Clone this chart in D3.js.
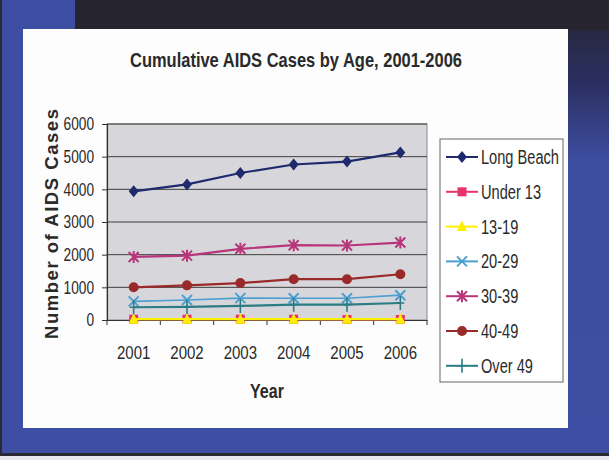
<!DOCTYPE html>
<html>
<head>
<meta charset="utf-8">
<script src="https://cdn.jsdelivr.net/npm/d3@7"></script>
<style>
  html, body { margin: 0; padding: 0; background: #fff; }
  svg { display: block; }
  text { font-family: "Liberation Sans", Arial, sans-serif; }
</style>
</head>
<body>
<svg id="chart" width="609" height="460"></svg>
<script>
// ---- data ----
const title = "Cumulative AIDS Cases by Age, 2001-2006";
const years = ["2001", "2002", "2003", "2004", "2005", "2006"];
const yTicks = [0, 1000, 2000, 3000, 4000, 5000, 6000];
const seriesNames = ["Long Beach", "Under 13", "13-19", "20-29", "30-39", "40-49", "Over 49"];
const longBeach = [3940, 4150, 4500, 4760, 4850, 5130];
const under13   = [25, 25, 25, 25, 15, 15];
const age13to19 = [25, 25, 25, 25, 25, 25];
const age20to29 = [570, 610, 670, 665, 665, 760];
const age30to39 = [1930, 1970, 2180, 2290, 2280, 2370];
const age40to49 = [1000, 1060, 1130, 1250, 1250, 1400];
const over49    = [390, 400, 430, 470, 470, 520];
const seriesValues = [longBeach, under13, age13to19, age20to29, age30to39, age40to49, over49];
const seriesColors = ["#1f2a6e", "#e8336a", "#fff000", "#4d9fd0", "#b8357c", "#9a2a2a", "#2b7c84"];
const seriesMarkers = ["diamond", "square", "triangle", "x", "asterisk", "circle", "plus"];

// ---- helpers ----
// horizontally condense a text element about its own x anchor (narrow-font look)
function narrow(sel, sx) {
  sel.each(function () {
    const t = d3.select(this);
    const x0 = +t.attr("x") || 0;
    t.attr("transform", `translate(${x0},0) scale(${sx},1) translate(${-x0},0)`);
  });
}

const svg = d3.select("#chart");
const W = 609, H = 460;

// slide background
const defs = svg.append("defs");
const grad = defs.append("linearGradient").attr("id", "rg").attr("x1", 0).attr("y1", 0).attr("x2", 0).attr("y2", 1);
grad.append("stop").attr("offset", "0%").attr("stop-color", "#25242f");
grad.append("stop").attr("offset", "18%").attr("stop-color", "#2b2f60");
grad.append("stop").attr("offset", "35%").attr("stop-color", "#3c4c9e");
grad.append("stop").attr("offset", "100%").attr("stop-color", "#3e4fa3");

svg.append("rect").attr("x", 0).attr("y", 0).attr("width", W).attr("height", H).attr("fill", "#3e4fa3");
svg.append("rect").attr("x", 560).attr("y", 0).attr("width", 49).attr("height", 453).attr("fill", "url(#rg)");
svg.append("rect").attr("x", 75).attr("y", 0).attr("width", 534).attr("height", 30).attr("fill", "#25242f");
svg.append("rect").attr("x", 0).attr("y", 0).attr("width", 2).attr("height", H).attr("fill", "#2a2a35");
svg.append("rect").attr("x", 0).attr("y", 453).attr("width", W).attr("height", 3).attr("fill", "#2a2a35");
svg.append("rect").attr("x", 0).attr("y", 456).attr("width", W).attr("height", 4).attr("fill", "#e8e8ee");
// white panel
svg.append("rect").attr("x", 23).attr("y", 29).attr("width", 545).attr("height", 399).attr("fill", "#fdfdfd");

// title
svg.append("text")
  .attr("x", 296).attr("y", 67).attr("text-anchor", "middle")
  .attr("font-size", 21).attr("font-weight", "bold").attr("fill", "#2a2a2a")
  .attr("textLength", 332).attr("lengthAdjust", "spacingAndGlyphs")
  .text(title);

const plot = { left: 107, right: 427, top: 124, bottom: 320 };
const x = d3.scaleBand().domain(years).range([plot.left, plot.right]);
const y = d3.scaleLinear().domain([0, 6000]).range([plot.bottom, plot.top]);
const cx = d => x(d) + x.bandwidth() / 2;

// plot bg
svg.append("rect").attr("x", plot.left).attr("y", plot.top)
  .attr("width", plot.right - plot.left).attr("height", plot.bottom - plot.top)
  .attr("fill", "#d7d7db").attr("stroke", "#8a8a8a").attr("stroke-width", 1);

// gridlines
svg.append("g").selectAll("line").data(yTicks.filter(t => t > 0)).join("line")
  .attr("x1", plot.left).attr("x2", plot.right)
  .attr("y1", d => y(d)).attr("y2", d => y(d))
  .attr("stroke", "#3e3e3e").attr("stroke-width", 1);

// y axis
const yAxis = svg.append("g").attr("transform", `translate(${plot.left},0)`)
  .call(d3.axisLeft(y).tickValues(yTicks).tickSize(5).tickPadding(8).tickFormat(d3.format("d")));
yAxis.select(".domain").attr("stroke", "#333").attr("stroke-width", 1.2);
yAxis.selectAll(".tick line").attr("stroke", "#333");
yAxis.selectAll("text").attr("font-size", 18.5).attr("fill", "#2a2a2a").call(narrow, 0.74);

// x axis
const xAxis = svg.append("g").attr("transform", `translate(0,${plot.bottom})`)
  .call(d3.axisBottom(x).tickSize(0).tickPadding(26));
xAxis.select(".domain").attr("stroke", "#333").attr("stroke-width", 1.2);
xAxis.selectAll("text").attr("font-size", 19).attr("fill", "#2a2a2a").call(narrow, 0.79);
// tick marks at category boundaries
const bounds = years.map(d => x(d)).concat([plot.right]);
svg.append("g").selectAll("line").data(bounds).join("line")
  .attr("x1", d => d).attr("x2", d => d)
  .attr("y1", plot.bottom).attr("y2", plot.bottom + 5)
  .attr("stroke", "#333").attr("stroke-width", 1);

// axis titles
svg.append("text")
  .attr("x", 267).attr("y", 398).attr("text-anchor", "middle")
  .attr("font-size", 20).attr("font-weight", "bold").attr("fill", "#2a2a2a")
  .text("Year").call(narrow, 0.8);
svg.append("text")
  .attr("transform", "translate(58,224) rotate(-90)")
  .attr("text-anchor", "middle")
  .attr("font-size", 18.5).attr("font-weight", "bold").attr("fill", "#2a2a2a")
  .attr("textLength", 230).attr("lengthAdjust", "spacing")
  .text("Number of AIDS Cases");

// marker drawing
function drawMarker(g, type, color, px, py) {
  const s = g.append("g").attr("transform", `translate(${px},${py})`);
  if (type === "diamond") {
    s.append("path").attr("d", "M0,-6L5,0L0,6L-5,0Z").attr("fill", color);
  } else if (type === "square") {
    s.append("rect").attr("x", -4.5).attr("y", -4.5).attr("width", 9).attr("height", 9).attr("fill", color);
  } else if (type === "triangle") {
    s.append("path").attr("d", "M0,-6L5,4.5L-5,4.5Z").attr("fill", color);
  } else if (type === "circle") {
    s.append("circle").attr("r", 5).attr("fill", color);
  } else if (type === "x") {
    s.append("path").attr("d", "M-5,-5L5,5M-5,5L5,-5").attr("stroke", color).attr("stroke-width", 2);
  } else if (type === "asterisk") {
    s.append("path").attr("d", "M-5,-5L5,5M-5,5L5,-5M0,-6L0,6").attr("stroke", color).attr("stroke-width", 2);
  } else if (type === "plus") {
    s.append("path").attr("d", "M0,-7L0,7M-4,0L4,0").attr("stroke", color).attr("stroke-width", 1.6);
  }
}

const line = d3.line().x(d => cx(d.year)).y(d => y(d.v));
seriesValues.forEach((vals, i) => {
  const pts = years.map((yr, j) => ({ year: yr, v: vals[j] }));
  const g = svg.append("g");
  g.append("path").datum(pts).attr("d", line)
    .attr("fill", "none").attr("stroke", seriesColors[i])
    .attr("stroke-width", i === 3 ? 1.6 : 2.2);
  pts.forEach(p => drawMarker(g, seriesMarkers[i], seriesColors[i], cx(p.year), y(p.v)));
});

// legend
const lg = svg.append("g");
lg.append("rect").attr("x", 440).attr("y", 139).attr("width", 123).attr("height", 243)
  .attr("fill", "#fff").attr("stroke", "#666").attr("stroke-width", 1);
seriesNames.forEach((name, i) => {
  const ly = 157 + i * 34.8;
  lg.append("line").attr("x1", 446).attr("x2", 478).attr("y1", ly).attr("y2", ly)
    .attr("stroke", seriesColors[i]).attr("stroke-width", 2);
  drawMarker(lg, seriesMarkers[i], seriesColors[i], 462, ly);
  lg.append("text").attr("x", 481).attr("y", ly).attr("dy", "0.36em")
    .attr("font-size", 19.5).attr("fill", "#2a2a2a").text(name).call(narrow, 0.75);
});
</script>
</body>
</html>
